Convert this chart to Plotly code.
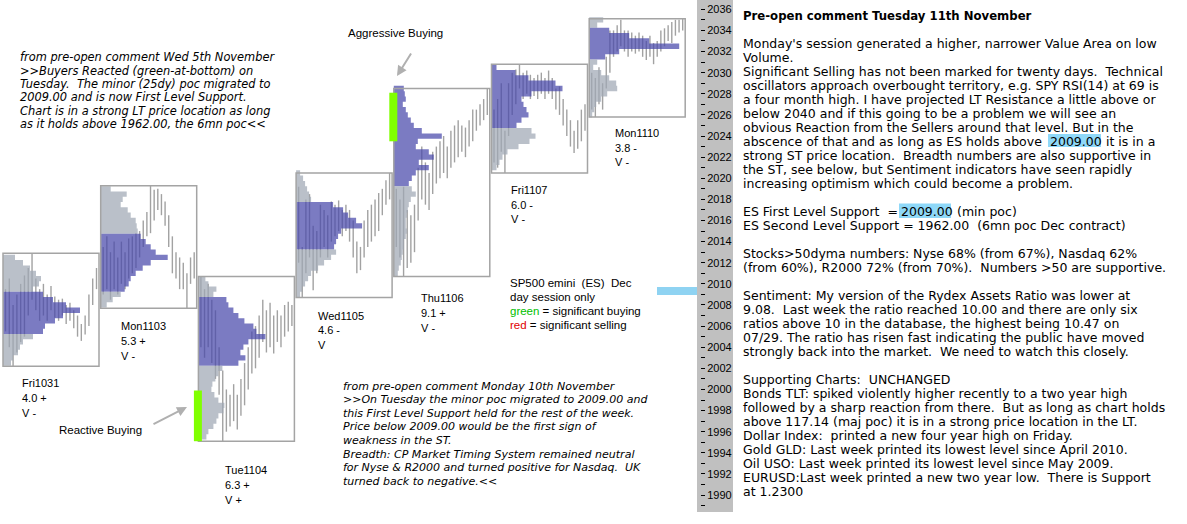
import plotly.graph_objects as go

# ---------------- data ----------------
DAYS = ["Fri1031", "Mon1103", "Tue1104", "Wed1105", "Thu1106", "Fri1107", "Mon1110"]
RANGE_TXT = ["4.0 +", "5.3 +", "6.3 +", "4.6 -", "9.1 +", "6.0 -", "3.8 -"]
VOL_TXT = ["V -", "V -", "V +", "V", "V -", "V -", "V -"]

# intraday price bars (low / high) per session
fri1031_lo = [2005.5, 2004.0, 2002.2, 2003.5, 2004.5, 2005.0, 2007.0, 2008.5, 2007.5, 2006.5, 2007.0, 2006.5, 2007.5,
              2006.8, 2006.5, 2007.0, 2006.2, 2006.5, 2005.8, 2005.0, 2004.6, 2005.2, 2006.0, 2008.0, 2009.5]
fri1031_hi = [2009.5, 2010.5, 2008.0, 2009.0, 2010.0, 2010.8, 2011.5, 2012.9, 2010.5, 2009.5, 2010.0, 2009.0, 2009.8,
              2008.8, 2008.5, 2008.6, 2008.0, 2008.2, 2007.5, 2007.0, 2006.2, 2007.0, 2009.0, 2010.5, 2011.5]
mon1103_lo = [2009.0, 2009.5, 2008.5, 2009.5, 2009.0, 2010.0, 2009.5, 2010.5, 2011.0, 2011.5, 2012.5, 2013.5, 2014.5,
              2014.8, 2016.0, 2017.0, 2016.5, 2015.5, 2013.5, 2011.0, 2010.5, 2009.5, 2009.5, 2007.7, 2010.0, 2010.5]
mon1103_hi = [2013.5, 2014.5, 2013.0, 2014.0, 2012.5, 2014.0, 2013.0, 2014.3, 2014.5, 2014.8, 2015.0, 2016.0, 2016.8,
              2019.3, 2018.9, 2019.0, 2018.5, 2017.8, 2016.5, 2014.5, 2013.0, 2012.5, 2012.0, 2011.0, 2012.5, 2013.0]
tue1104_lo = [2004.0, 2003.0, 2004.0, 2002.5, 2001.0, 1999.5, 1995.1, 1996.0, 1996.5, 1997.0, 1996.2, 1997.5, 1998.5,
              2000.0, 2001.5, 2002.0, 2003.0, 2004.5, 2003.5, 2004.0, 2003.4, 2004.5, 2004.0, 2005.0, 2005.5, 2006.0]
tue1104_hi = [2010.7, 2009.5, 2010.0, 2008.5, 2007.5, 2004.0, 2001.8, 2000.0, 1999.5, 2000.5, 1999.5, 2001.0, 2002.5,
              2004.0, 2005.5, 2006.0, 2007.0, 2008.5, 2007.5, 2008.2, 2007.0, 2007.5, 2007.0, 2008.0, 2008.3, 2008.0]
wed1105_lo = [2012.0, 2008.7, 2011.0, 2012.5, 2009.4, 2011.0, 2012.5, 2013.5, 2012.5, 2014.0, 2014.5, 2015.0, 2014.5,
              2015.0, 2014.0, 2012.5, 2011.0, 2011.3, 2012.5, 2013.5, 2014.0, 2014.5, 2015.0, 2016.5, 2017.5, 2018.0]
wed1105_hi = [2019.2, 2013.5, 2018.0, 2018.5, 2015.5, 2015.0, 2017.5, 2017.0, 2016.5, 2017.8, 2017.5, 2017.9, 2017.0,
              2017.5, 2017.0, 2016.0, 2014.0, 2013.5, 2016.0, 2017.0, 2017.5, 2018.0, 2018.6, 2019.0, 2019.8, 2020.5]
thu1106_lo = [2013.5, 2012.5, 2010.7, 2011.5, 2012.0, 2013.0, 2016.0, 2018.0, 2017.5, 2017.0, 2018.5, 2019.5, 2020.0,
              2020.5, 2020.0, 2021.0, 2021.5, 2022.0, 2022.5, 2022.0, 2023.0, 2023.5, 2024.5, 2025.0, 2025.5, 2026.0]
thu1106_hi = [2019.0, 2018.0, 2019.2, 2017.0, 2016.5, 2017.5, 2021.0, 2023.0, 2021.5, 2020.5, 2022.5, 2023.0, 2023.5,
              2024.0, 2023.0, 2024.5, 2025.0, 2025.5, 2025.0, 2024.8, 2025.5, 2026.5, 2026.5, 2027.0, 2027.5, 2028.5]
fri1107_lo = [2021.5, 2021.0, 2022.5, 2020.5, 2024.0, 2026.0, 2027.0, 2028.5, 2027.5, 2028.0, 2027.5, 2027.8, 2027.5,
              2028.0, 2027.5, 2028.0, 2027.5, 2026.5, 2026.0, 2025.0, 2024.0, 2023.0, 2022.4, 2022.8, 2023.5, 2024.5]
fri1107_hi = [2026.5, 2027.5, 2029.0, 2024.5, 2029.0, 2030.0, 2030.3, 2030.8, 2030.0, 2030.2, 2029.8, 2029.5, 2029.8,
              2030.0, 2029.5, 2030.2, 2029.5, 2028.5, 2028.7, 2027.5, 2026.5, 2025.5, 2024.5, 2025.5, 2026.5, 2027.0]
mon1110_lo = [2026.5, 2025.8, 2027.0, 2026.5, 2028.5, 2030.0, 2031.5, 2032.0, 2032.5, 2032.0, 2031.5, 2032.0, 2031.8,
              2032.0, 2031.5, 2031.2, 2031.5, 2030.8, 2031.5, 2032.0, 2032.5, 2033.0, 2032.8, 2033.5, 2033.8, 2034.0]
mon1110_hi = [2030.0, 2029.5, 2030.5, 2029.0, 2031.5, 2034.0, 2034.0, 2034.5, 2035.0, 2034.0, 2034.0, 2033.8, 2033.5,
              2033.8, 2033.5, 2033.0, 2033.5, 2032.8, 2033.0, 2034.0, 2034.2, 2034.5, 2034.8, 2035.0, 2035.0, 2035.1]

BAR_LO = [fri1031_lo, mon1103_lo, tue1104_lo, wed1105_lo, thu1106_lo, fri1107_lo, mon1110_lo]
BAR_HI = [fri1031_hi, mon1103_hi, tue1104_hi, wed1105_hi, thu1106_hi, fri1107_hi, mon1110_hi]

# volume profiles (0.5 pt levels, listed from the top level down)
PROF_TOP = [2012.5, 2019.0, 2010.5, 2020.5, 2028.5, 2030.5, 2035.0]
fri1031_prof = [12, 20, 27, 33, 38, 36, 30, 40, 50, 63, 77, 60, 52, 42, 40, 30, 20, 17, 15, 10, 8]
mon1103_prof = [10, 26, 22, 20, 27, 30, 35, 36, 37, 40, 45, 50, 55, 67, 50, 42, 35, 30, 28, 24, 20, 12, 6]
tue1104_prof = [7, 10, 18, 15, 28, 30, 35, 40, 46, 55, 58, 67, 50, 45, 42, 47, 40,
                24, 20, 17, 14, 13, 16, 20, 26, 25, 20, 18, 15, 10, 8]
wed1105_prof = [4, 7, 9, 11, 13, 15, 37, 47, 52, 60, 66, 45, 42, 40, 38, 40, 35, 28, 22, 15, 12, 9, 6, 4]
thu1106_prof = [10, 11, 12, 9, 12, 14, 17, 20, 28, 48, 24, 22, 35, 40, 25, 35, 22, 18, 15,
                18, 22, 17, 15, 14, 13, 12, 12, 13, 12, 10, 10, 9, 8, 7, 5, 4]
fri1107_prof = [5, 24, 37, 64, 71, 40, 30, 32, 35, 37, 30, 25, 40, 44, 38, 27, 16, 11, 8, 5]
mon1110_prof = [14, 8, 20, 40, 60, 90, 30, 16, 8, 4, 12, 20, 27, 28, 18, 12, 7, 5, 3]
PROFILES = [fri1031_prof, mon1103_prof, tue1104_prof, wed1105_prof, thu1106_prof, fri1107_prof, mon1110_prof]
LEVEL_STEP = 0.5

VA_LO = [2005.5, 2009.5, 2002.5, 2013.5, 2019.5, 2025.0, 2031.5]
VA_HI = [2009.0, 2014.5, 2008.5, 2017.5, 2028.5, 2030.5, 2034.0]

# significant buying marks (session index, low, high)
BUY_DAY = [2, 4]
BUY_LO = [1995.1, 2023.5]
BUY_HI = [1999.9, 2028.1]

FIRST_SUPPORT = 2009.00
AXIS_TICKS = list(range(1990, 2037, 2))
AXIS_MINOR = list(range(1989, 2038, 2))

COMMENT_TITLE = "Pre-open comment Tuesday 11th November"
COMMENT_LINES = [
    "Monday's session generated a higher, narrower Value Area on low",
    "Volume.",
    "Significant Selling has not been marked for twenty days.  Technical",
    "oscillators approach overbought territory, e.g. SPY RSI(14) at 69 is",
    "a four month high. I have projected LT Resistance a little above or",
    "below 2040 and if this going to be a problem we will see an",
    "obvious Reaction from the Sellers around that level. But in the",
    None,
    "strong ST price location.  Breadth numbers are also supportive in",
    "the ST, see below, but Sentiment indicators have seen rapidly",
    "increasing optimism which could become a problem.",
    "",
    None,
    "ES Second Level Support = 1962.00  (6mn poc Dec contract)",
    "",
    "Stocks>50dyma numbers: Nyse 68% (from 67%), Nasdaq 62%",
    "(from 60%), R2000 72% (from 70%).  Numbers >50 are supportive.",
    "",
    "Sentiment: My version of the Rydex Assets Ratio was lower at",
    "9.08.  Last week the ratio reached 10.00 and there are only six",
    "ratios above 10 in the database, the highest being 10.47 on",
    "07/29. The ratio has risen fast indicating the public have moved",
    "strongly back into the market.  We need to watch this closely.",
    "",
    "Supporting Charts:  UNCHANGED",
    "Bonds TLT: spiked violently higher recently to a two year high",
    "followed by a sharp reaction from there.  But as long as chart holds",
    "above 117.14 (maj poc) it is in a strong price location in the LT.",
    "Dollar Index:  printed a new four year high on Friday.",
    "Gold GLD: Last week printed its lowest level since April 2010.",
    "Oil USO: Last week printed its lowest level since May 2009.",
    "EURUSD:Last week printed a new two year low.  There is Support",
    "at 1.2300",
]
HILITE_LINES = {
    7: ["abscence of that and as long as ES holds above", "2009.00", "it is in a"],
    12: ["ES First Level Support  =", "2009.00", "(min poc)"],
}
NOTE1 = [
    "from pre-open comment Wed 5th November",
    ">>Buyers Reacted (green-at-bottom) on",
    "Tuesday.  The minor (25dy) poc migrated to",
    "2009.00 and is now First Level Support.",
    "Chart is in a strong LT price location as long",
    "as it holds above 1962.00, the 6mn poc<<",
]
NOTE2 = [
    "from pre-open comment Monday 10th November",
    ">>On Tuesday the minor poc migrated to 2009.00 and",
    "this First Level Support held for the rest of the week.",
    "Price below 2009.00 would be the first sign of",
    "weakness in the ST.",
    "Breadth: CP Market Timing System remained neutral",
    "for Nyse & R2000 and turned positive for Nasdaq.  UK",
    "turned back to negative.<<",
]
LEGEND_LINES = [
    "SP500 emini  (ES)  Dec",
    "day session only",
    "<span style='color:#00c000'>green</span> = significant buying",
    "<span style='color:#e00000'>red</span> = significant selling",
]

# ---------------- layout / style ----------------
W, H = 1187, 524
PLOT_R = 700            # pixel where the price axis sits
BOX_W = 96
BOX_LEFT = [3 + i * 97.7 for i in range(len(DAYS))]
LABEL_DX = [17, 18, 25, 20, 25, 17, 24]
LABEL_DY = [17, 18, 29, 18, 22, 17, 16]
BLUE = "rgba(72,72,170,0.72)"
GREY = "rgba(160,168,180,0.72)"
LINE_GREY = "#a2a2a2"
HILITE = "#8fd8f8"
F_VER = "DejaVu Sans"
F_TAH = "Liberation Sans"
PANEL_SIZE = 12.5


def esc(s):
    s = s.replace("&", "&amp;").replace("<<", "&lt;&lt;").replace(">>", "&gt;&gt;").replace(">5", "&gt;5")
    return s.replace("  ", " \u00a0")


def P(x, y):
    return x / W, 1 - y / H


fig = go.Figure()
shapes, annos = [], []

for d in range(len(DAYS)):
    left = BOX_LEFT[d]
    lo, hi = BAR_LO[d], BAR_HI[d]
    n = len(lo)
    xs, ys = [], []
    for i in range(n):
        xp = left + 2.5 + i * (BOX_W - 5) / (n - 1)
        xs += [xp, xp, None]
        ys += [lo[i], hi[i], None]
    fig.add_trace(go.Scatter(x=xs, y=ys, mode="lines", line=dict(color=LINE_GREY, width=1.4),
                             hoverinfo="skip", showlegend=False))

    # profile as stepped filled polygons, one per contiguous colour run
    prof = PROFILES[d]
    levels = [PROF_TOP[d] - LEVEL_STEP * k for k in range(len(prof))]
    runs = []
    for lev, val in zip(levels, prof):
        inva = VA_LO[d] <= lev <= VA_HI[d]
        if runs and runs[-1][0] == inva:
            runs[-1][1].append((lev, val))
        else:
            runs.append([inva, [(lev, val)]])
    half = LEVEL_STEP / 2
    for inva, pts in runs:
        px, py = [left], [pts[0][0] + half]
        for lev, val in pts:
            px += [left + val, left + val]
            py += [lev + half, lev - half]
        px += [left, left]
        py += [pts[-1][0] - half, pts[0][0] + half]
        fig.add_trace(go.Scatter(x=px, y=py, mode="lines", fill="toself",
                                 fillcolor=BLUE if inva else GREY, line=dict(width=0),
                                 hoverinfo="skip", showlegend=False))

    day_lo, day_hi = min(lo), max(hi)
    shapes.append(dict(type="rect", xref="x", yref="y", x0=left, x1=left + BOX_W, y0=day_lo, y1=day_hi,
                       line=dict(color="#a4a4a4", width=1.5), fillcolor="rgba(0,0,0,0)", layer="above"))
    for k, t in enumerate([DAYS[d], RANGE_TXT[d], VOL_TXT[d]]):
        annos.append(dict(x=left, y=day_lo, xref="x", yref="y", text=t, showarrow=False,
                          xanchor="left", yanchor="middle", xshift=LABEL_DX[d],
                          yshift=-(LABEL_DY[d] + 14.7 * k),
                          font=dict(family=F_TAH, size=11, color="black")))

for j in range(len(BUY_DAY)):
    left = BOX_LEFT[BUY_DAY[j]]
    shapes.append(dict(type="rect", xref="x", yref="y", x0=left - 4.5, x1=left + 3.5,
                       y0=BUY_LO[j], y1=BUY_HI[j], line=dict(width=0), fillcolor="#80ff00", layer="above"))

# price-axis band and support marker
shapes.append(dict(type="rect", xref="paper", yref="paper", x0=697 / W, x1=733 / W, y0=1 - 512 / H, y1=1,
                   line=dict(width=0), fillcolor="#c0c0c0", layer="below"))
shapes.append(dict(type="rect", xref="x", yref="y", x0=657, x1=697, y0=FIRST_SUPPORT - 0.06,
                   y1=FIRST_SUPPORT + 0.7, line=dict(width=0), fillcolor="#8fd3f2", layer="above"))

# highlight boxes behind "2009.00" in the comment panel
for (hx0, hy0, hx1, hy1) in [(1048, 134, 1101, 147), (899, 203.5, 951, 218)]:
    a0, b0 = P(hx0, hy1)
    a1, b1 = P(hx1, hy0)
    shapes.append(dict(type="rect", xref="paper", yref="paper", x0=a0, x1=a1, y0=b0, y1=b1,
                       line=dict(width=0), fillcolor=HILITE, layer="below"))

# right-hand comment panel
x0, y0 = P(741, 15.5)
annos.append(dict(x=x0, y=y0, xref="paper", yref="paper", text="<b>" + COMMENT_TITLE + "</b>",
                  showarrow=False, xanchor="left", yanchor="middle",
                  font=dict(family=F_VER, size=11.7, color="black")))
HX = {7: [741, 1048, 1104], 12: [741, 899, 955]}
for k, line in enumerate(COMMENT_LINES):
    yc = 43.3 + 14.0 * k
    if k in HILITE_LINES:
        for s, seg in enumerate(HILITE_LINES[k]):
            xx, yy = P(HX[k][s], yc)
            annos.append(dict(x=xx, y=yy, xref="paper", yref="paper", text=esc(seg), showarrow=False,
                              xanchor="left", yanchor="middle",
                              font=dict(family=F_VER, size=PANEL_SIZE, color="black")))
        continue
    if not line:
        continue
    xx, yy = P(741, yc)
    annos.append(dict(x=xx, y=yy, xref="paper", yref="paper", text=esc(line), showarrow=False,
                      xanchor="left", yanchor="middle", font=dict(family=F_VER, size=PANEL_SIZE, color="black")))

# italic notes
for k, line in enumerate(NOTE1):
    xx, yy = P(18, 57.5 + 13.3 * k)
    annos.append(dict(x=xx, y=yy, xref="paper", yref="paper", text="<i>" + esc(line) + "</i>",
                      showarrow=False, xanchor="left", yanchor="middle",
                      font=dict(family=F_VER, size=11.4, color="black")))
for k, line in enumerate(NOTE2):
    xx, yy = P(341, 386 + 13.6 * k)
    annos.append(dict(x=xx, y=yy, xref="paper", yref="paper", text="<i>" + esc(line) + "</i>",
                      showarrow=False, xanchor="left", yanchor="middle",
                      font=dict(family=F_VER, size=11, color="black")))
for k, line in enumerate(LEGEND_LINES):
    xx, yy = P(508, 283 + 14 * k)
    annos.append(dict(x=xx, y=yy, xref="paper", yref="paper", text=line.replace("  ", " \u00a0"),
                      showarrow=False, xanchor="left", yanchor="middle",
                      font=dict(family=F_TAH, size=11.5, color="black")))

# callouts with arrows
for txt, tx, ty in [("Aggressive Buying", 346, 33), ("Reactive Buying", 57, 430)]:
    xx, yy = P(tx, ty)
    annos.append(dict(x=xx, y=yy, xref="paper", yref="paper", text=txt, showarrow=False,
                      xanchor="left", yanchor="middle", font=dict(family=F_TAH, size=11.5, color="black")))
for (hx, hy, tx, ty) in [(397, 76, 412, 52), (187, 407, 152, 425)]:
    xx, yy = P(hx, hy)
    annos.append(dict(x=xx, y=yy, xref="paper", yref="paper", text="", showarrow=True,
                      ax=tx - hx, ay=ty - hy, arrowhead=2, arrowsize=1, arrowwidth=2,
                      arrowcolor="#b0b0b0"))

fig.update_layout(
    width=W, height=H, autosize=False,
    margin=dict(l=0, r=0, t=0, b=0),
    paper_bgcolor="white", plot_bgcolor="rgba(0,0,0,0)",
    showlegend=False, hovermode=False,
    shapes=shapes, annotations=annos,
    xaxis=dict(range=[0, PLOT_R], domain=[0, PLOT_R / W], visible=False, fixedrange=True),
    yaxis=dict(range=[1987.26, 2036.88], domain=[0, 1], side="right", showgrid=False, zeroline=False,
               showline=False, tickmode="array", tickvals=AXIS_TICKS, ticks="outside", ticklen=4,
               tickwidth=1, tickcolor="black", tickfont=dict(family=F_TAH, size=11, color="black"),
               minor=dict(tickmode="array", tickvals=AXIS_MINOR, ticks="outside", ticklen=4,
                          tickcolor="black"),
               fixedrange=True),
)

fig.write_html("out.html")
